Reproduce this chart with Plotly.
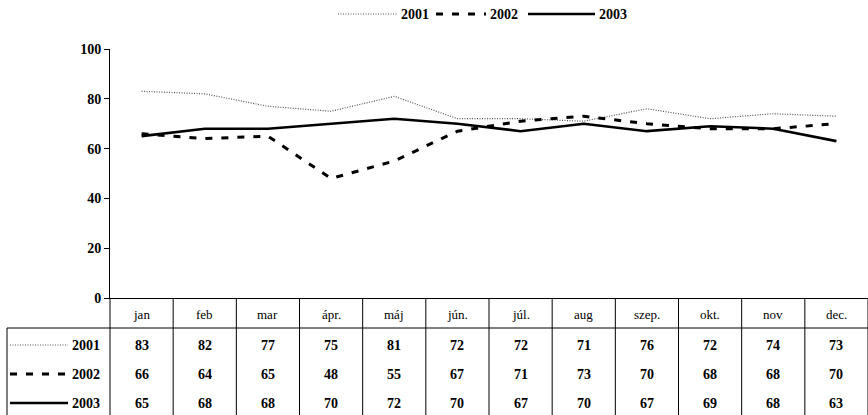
import plotly.graph_objects as go

months = ["jan", "feb", "mar", "ápr.", "máj", "jún.", "júl.", "aug", "szep.", "okt.", "nov", "dec."]
series_names = ["2001", "2002", "2003"]
v2001 = [83, 82, 77, 75, 81, 72, 72, 71, 76, 72, 74, 73]
v2002 = [66, 64, 65, 48, 55, 67, 71, 73, 70, 68, 68, 70]
v2003 = [65, 68, 68, 70, 72, 70, 67, 70, 67, 69, 68, 63]
y_ticks = [0, 20, 40, 60, 80, 100]

W, H = 868, 415
L, R, T, B = 110, 0, 49, 117
PW, PH = W - L - R, H - T - B
Y0 = H - B  # pixel of y=0


def px(x):
    return (x - L) / PW


def py(p):
    return (Y0 - p) / PH


styles = [
    dict(color="#555555", width=1.2, dash="1px,1.5px"),
    dict(color="black", width=3, dash="7px,9px"),
    dict(color="black", width=2.6, dash="solid"),
]
values = [v2001, v2002, v2003]
n = len(months)
xc = [i + 0.5 for i in range(n)]

fig = go.Figure()
for name, vals, st in zip(series_names, values, styles):
    fig.add_trace(go.Scatter(x=xc, y=vals, mode="lines", name=name,
                             line=dict(color=st["color"], width=st["width"], dash=st["dash"]),
                             showlegend=False, hoverinfo="skip"))

serif = "Liberation Serif, Times New Roman, serif"
shapes = []
annotations = []


def ann(x, y, text, size=14, bold=True, xanchor="center"):
    annotations.append(dict(x=x, y=y, xref="paper", yref="paper", text=text,
                            showarrow=False, xanchor=xanchor, yanchor="middle",
                            font=dict(family=serif, size=size, color="black",
                                      weight="bold" if bold else "normal")))


# table column lines
for i in range(n + 1):
    shapes.append(dict(type="line", xref="paper", yref="paper",
                       x0=i / n, x1=i / n, y0=0, y1=py(H + 5),
                       line=dict(color="black", width=1)))
# header bottom line (extends over legend column)
shapes.append(dict(type="line", xref="paper", yref="paper",
                   x0=px(7), x1=1, y0=py(328), y1=py(328),
                   line=dict(color="black", width=1)))
# legend column left border
shapes.append(dict(type="line", xref="paper", yref="paper",
                   x0=px(7), x1=px(7), y0=py(328), y1=py(H + 5),
                   line=dict(color="black", width=1)))

# month headers
for i, m in enumerate(months):
    ann((i + 0.5) / n, py(314), m, size=13, bold=False)

row_y = [345, 374, 403]
for r, (name, vals, st) in enumerate(zip(series_names, values, styles)):
    for i, v in enumerate(vals):
        ann((i + 0.5) / n, py(row_y[r]), str(v))
    shapes.append(dict(type="line", xref="paper", yref="paper",
                       x0=px(10), x1=px(68), y0=py(row_y[r]), y1=py(row_y[r]),
                       line=dict(color=st["color"], width=st["width"], dash=st["dash"])))
    ann(px(102), py(row_y[r]), name, xanchor="right")

# top legend
leg = [(338, 397, 399), (436, 486, 488), (528, 595, 597)]
for (x0, x1, xt), name, st in zip(leg, series_names, styles):
    shapes.append(dict(type="line", xref="paper", yref="paper",
                       x0=px(x0), x1=px(x1), y0=py(14), y1=py(14),
                       line=dict(color=st["color"], width=st["width"], dash=st["dash"])))
    ann(px(xt), py(14), name, xanchor="left")

fig.update_layout(
    width=W, height=H,
    margin=dict(l=L, r=R, t=T, b=B, pad=0),
    paper_bgcolor="white", plot_bgcolor="white",
    showlegend=False,
    shapes=shapes,
    annotations=annotations,
    xaxis=dict(range=[0, n], showticklabels=False, ticks="", showgrid=False,
               zeroline=False, showline=True, linecolor="black", linewidth=1,
               fixedrange=True),
    yaxis=dict(range=[0, 100], tickvals=y_ticks, ticks="outside", ticklen=5,
               tickcolor="black", showgrid=False, zeroline=False, showline=True,
               linecolor="black", linewidth=1,
               tickfont=dict(family=serif, size=14, color="black", weight="bold"),
               fixedrange=True),
)

fig.write_html("out.html", config={"displayModeBar": False},
               post_script="document.body.style.margin='0';")
